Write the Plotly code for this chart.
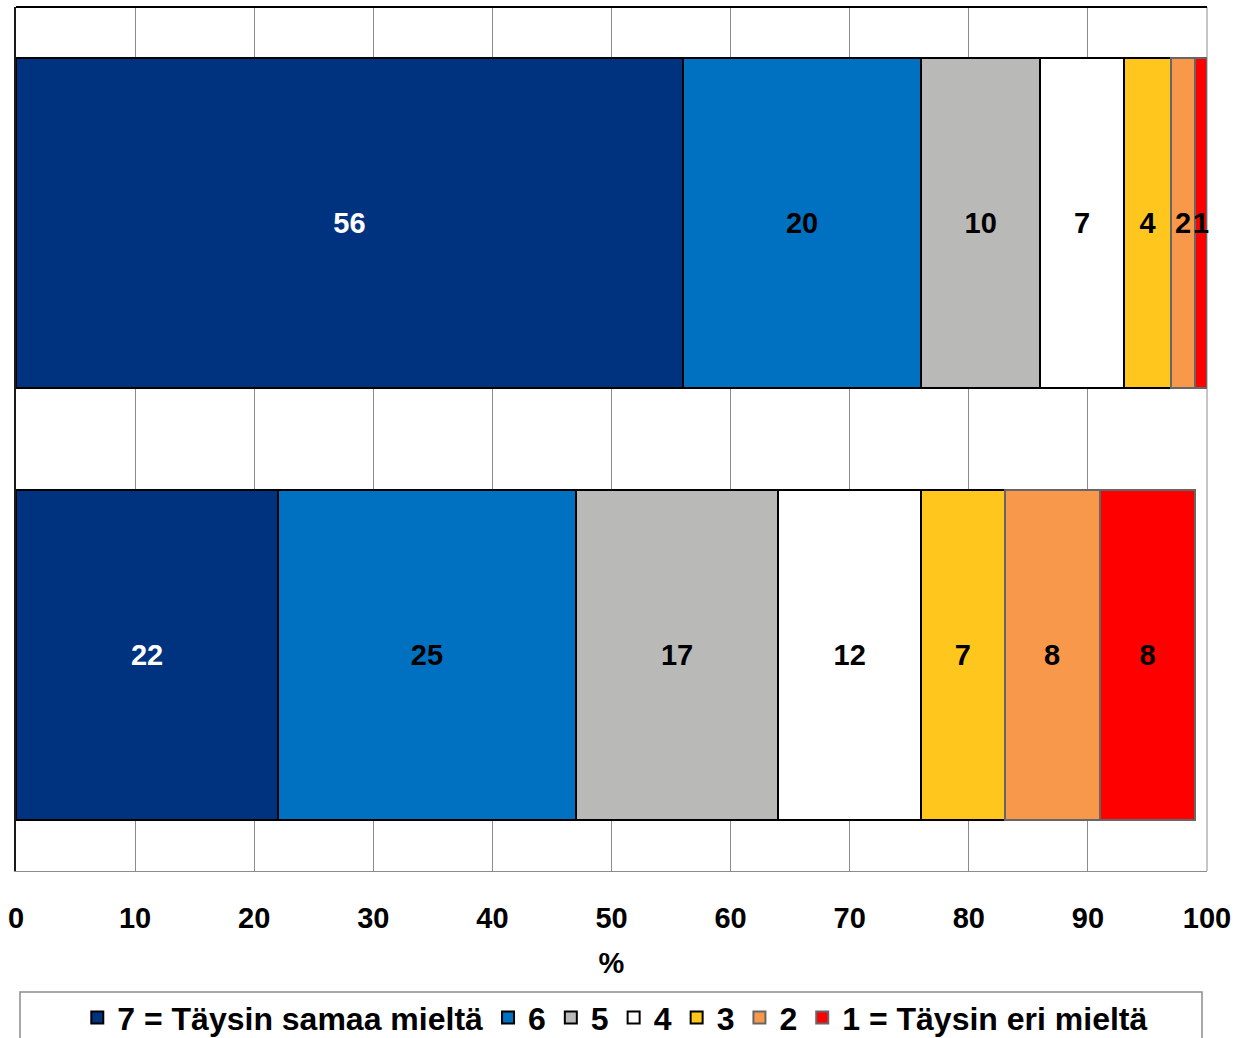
import plotly.graph_objects as go

# Response distribution (%) for two groups, 7-point agreement scale
groups = ["Ryhmä 1", "Ryhmä 2"]
scale_labels = ["7 = Täysin samaa mieltä", "6", "5", "4", "3", "2", "1 = Täysin eri mieltä"]
share_7 = [56, 22]
share_6 = [20, 25]
share_5 = [10, 17]
share_4 = [7, 12]
share_3 = [4, 7]
share_2 = [2, 8]
share_1 = [1, 8]
series = [share_7, share_6, share_5, share_4, share_3, share_2, share_1]

fill_colors = ["#00337F", "#0070C0", "#B9BAB8", "#FFFFFF", "#FFC61E", "#F7984A", "#FF0000"]
edge_colors = ["#000000", "#000000", "#000000", "#000000", "#000000", "#666666", "#666666"]
text_colors = ["#FFFFFF", "#000000", "#000000", "#000000", "#000000", "#000000", "#000000"]
x_ticks = [0, 10, 20, 30, 40, 50, 60, 70, 80, 90, 100]

FONT = "Liberation Sans, Arial, sans-serif"

fig = go.Figure()
for name, vals, fc, ec, tc in zip(scale_labels, series, fill_colors, edge_colors, text_colors):
    fig.add_trace(go.Bar(
        y=groups,
        x=vals,
        name=name,
        orientation="h",
        marker=dict(color=fc, line=dict(color=ec, width=2)),
        text=vals,
        texttemplate="%{x}",
        textposition="inside",
        insidetextanchor="middle",
        textangle=0,
        constraintext="none",
        cliponaxis=False,
        textfont=dict(family=FONT, size=29, color=tc, weight="bold"),
    ))

fig.update_layout(
    width=1238,
    height=1038,
    barmode="stack",
    bargap=0.236,
    plot_bgcolor="#FFFFFF",
    paper_bgcolor="#FFFFFF",
    margin=dict(l=16, r=31, t=7, b=167),
    font=dict(family=FONT, color="#000000"),
    showlegend=True,
    legend=dict(
        orientation="h",
        traceorder="normal",
        x=0.497,
        xanchor="center",
        xref="container",
        y=0.046,
        yanchor="top",
        yref="container",
        bgcolor="rgba(0,0,0,0)",
        borderwidth=0,
        font=dict(family=FONT, size=32, color="#000000", weight="bold"),
        itemwidth=30,
    ),
    xaxis=dict(
        range=[0, 100],
        tickvals=x_ticks,
        ticktext=[str(v) for v in x_ticks],
        showgrid=True,
        gridcolor="#8C8C8C",
        gridwidth=1,
        showline=True,
        linecolor="#8C8C8C",
        linewidth=1,
        zeroline=False,
        ticks="",
        ticklabelstandoff=21,
        tickfont=dict(family=FONT, size=29, color="#000000", weight="bold"),
        title=dict(text="%", font=dict(family=FONT, size=29, color="#000000", weight="bold"), standoff=19),
    ),
    yaxis=dict(
        autorange="reversed",
        showticklabels=False,
        showgrid=False,
        showline=True,
        linecolor="#1A1A1A",
        linewidth=2,
        zeroline=False,
        ticks="",
    ),
    shapes=[
        # top frame line of the plot area
        dict(type="line", xref="paper", yref="paper", x0=0, x1=1, y0=1, y1=1,
             line=dict(color="#000000", width=2)),
        # right frame line at 100 %
        dict(type="line", xref="paper", yref="paper", x0=1, x1=1, y0=0, y1=1,
             line=dict(color="#8C8C8C", width=1), layer="below"),
        # legend frame
        dict(type="rect", xref="paper", yref="paper",
             x0=(20 - 16) / 1191, x1=(1202 - 16) / 1191,
             y0=-0.215, y1=-0.14,
             line=dict(color="#8C8C8C", width=1.5), fillcolor="rgba(0,0,0,0)", layer="below"),
    ],
)

fig.write_html("out.html")
